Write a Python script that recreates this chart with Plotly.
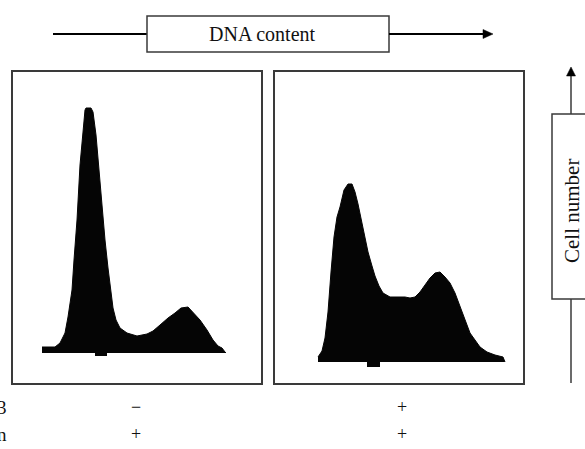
import plotly.graph_objects as go

W, H = 585, 449

# DNA-content histograms (channel, cell count) for the two conditions
ctrl_channel = [29, 42, 47, 52, 55, 57, 59, 61, 64, 67, 70, 72, 73, 78, 80, 83, 86, 89, 92, 95,
                98, 100, 103, 107, 114, 124, 134, 140, 147, 155, 162, 168, 175, 181, 187,
                194, 200, 205, 209, 212, 213]
ctrl_count = [6, 6, 10, 20, 36, 50, 63, 93, 133, 188, 226, 243, 245, 245, 241, 218, 183,
              146, 113, 85, 61, 45, 33, 25, 20, 17, 19, 22, 28, 35, 40, 45, 46, 40, 33,
              23, 13, 7, 5, 1, 0]

treat_channel = [43, 47, 50, 53, 56, 59, 62, 65, 69, 73, 77, 80, 83, 87, 90, 93, 97, 100,
                 104, 108, 115, 123, 130, 135, 140, 145, 150, 155, 160, 165, 170, 175,
                 180, 185, 190, 195, 200, 205, 212, 220, 228, 230]
treat_count = [5, 11, 24, 50, 90, 125, 145, 155, 172, 178, 178, 170, 158, 140, 124, 110,
               96, 86, 76, 69, 65, 65, 65, 64, 65, 70, 77, 84, 89, 90, 85, 79, 69, 55, 42,
               29, 22, 15, 10, 7, 5, 0]

# gate markers drawn just under each histogram baseline
ctrl_marker = {"channel": 88, "depth": -3, "width": 12}
treat_marker = {"channel": 98, "depth": -5, "width": 13}

row_names = ["3", "n"]
ctrl_signs = ["\u2212", "+"]
treat_signs = ["+", "+"]

SERIF = "Liberation Serif"
INK = "#050505"
EDGE = "#3a3a3a"


def px(x):
    return x / W


def py(y):
    return 1 - y / H


fig = go.Figure()

panels = [
    (ctrl_channel, ctrl_count, ctrl_marker, "x", "y"),
    (treat_channel, treat_count, treat_marker, "x2", "y2"),
]
for ch, cnt, mk, xa, ya in panels:
    fig.add_trace(go.Scatter(
        x=ch, y=cnt, xaxis=xa, yaxis=ya, mode="lines",
        line=dict(color=INK, width=1), fill="tozeroy", fillcolor=INK,
        hoverinfo="skip", showlegend=False,
    ))
    fig.add_trace(go.Bar(
        x=[mk["channel"]], y=[mk["depth"]], width=[mk["width"]],
        xaxis=xa, yaxis=ya, marker=dict(color=INK, line=dict(width=0)),
        hoverinfo="skip", showlegend=False,
    ))

axis_common = dict(showline=True, mirror=True, linecolor=EDGE, linewidth=1.5,
                   showticklabels=False, ticks="", showgrid=False, zeroline=False,
                   fixedrange=True)
ydom = [py(383), py(72)]
fig.update_layout(
    xaxis=dict(domain=[px(13), px(261)], range=[0, 248], **axis_common),
    yaxis=dict(domain=ydom, range=[-30, 281], **axis_common),
    xaxis2=dict(domain=[px(275), px(523)], range=[0, 248], anchor="y2", **axis_common),
    yaxis2=dict(domain=ydom, range=[-21, 290], anchor="x2", **axis_common),
)

shapes = []
# horizontal "DNA content" arrow with label box
shapes.append(dict(type="line", xref="paper", yref="paper",
                   x0=px(53), x1=px(147), y0=py(34), y1=py(34),
                   line=dict(color="black", width=2)))
shapes.append(dict(type="rect", xref="paper", yref="paper",
                   x0=px(147), x1=px(389), y0=py(52), y1=py(16),
                   line=dict(color=EDGE, width=1.5), fillcolor="white"))
shapes.append(dict(type="line", xref="paper", yref="paper",
                   x0=px(389), x1=px(485), y0=py(34), y1=py(34),
                   line=dict(color="black", width=2)))
shapes.append(dict(type="path", xref="paper", yref="paper",
                   path=f"M {px(483)},{py(29.5)} L {px(493)},{py(34)} L {px(483)},{py(38.5)} Z",
                   fillcolor="black", line=dict(color="black", width=0.5)))
# vertical "Cell number" arrow with label box
shapes.append(dict(type="line", xref="paper", yref="paper",
                   x0=px(571), x1=px(571), y0=py(383), y1=py(299),
                   line=dict(color=EDGE, width=1.5)))
shapes.append(dict(type="rect", xref="paper", yref="paper",
                   x0=px(552), x1=px(592), y0=py(299), y1=py(114),
                   line=dict(color=EDGE, width=1.5), fillcolor="white"))
shapes.append(dict(type="line", xref="paper", yref="paper",
                   x0=px(571), x1=px(571), y0=py(114), y1=py(75),
                   line=dict(color=EDGE, width=1.5)))
shapes.append(dict(type="path", xref="paper", yref="paper",
                   path=f"M {px(566.5)},{py(76)} L {px(571)},{py(67)} L {px(575.5)},{py(76)} Z",
                   fillcolor="black", line=dict(color="black", width=0.5)))


def label(text, x, y, size, **kw):
    d = dict(text=text, x=px(x), y=py(y), xref="paper", yref="paper",
             xanchor="center", yanchor="middle", showarrow=False,
             font=dict(family=SERIF, size=size, color="#111"))
    d.update(kw)
    return d


annotations = [
    label("DNA content", 262, 34, 20),
    label("Cell number", 572, 211, 21, textangle=-90),
]
row_y = [407, 434]
for name, c_sign, t_sign, yy in zip(row_names, ctrl_signs, treat_signs, row_y):
    annotations.append(label(name, 9, yy, 19, xanchor="right"))
    annotations.append(label(c_sign, 136, yy, 18))
    annotations.append(label(t_sign, 402, yy, 18))

fig.update_layout(
    width=W, height=H, autosize=False,
    margin=dict(l=0, r=0, t=0, b=0),
    paper_bgcolor="white", plot_bgcolor="white",
    shapes=shapes, annotations=annotations,
    bargap=0, showlegend=False,
)

fig.write_html("out.html")
